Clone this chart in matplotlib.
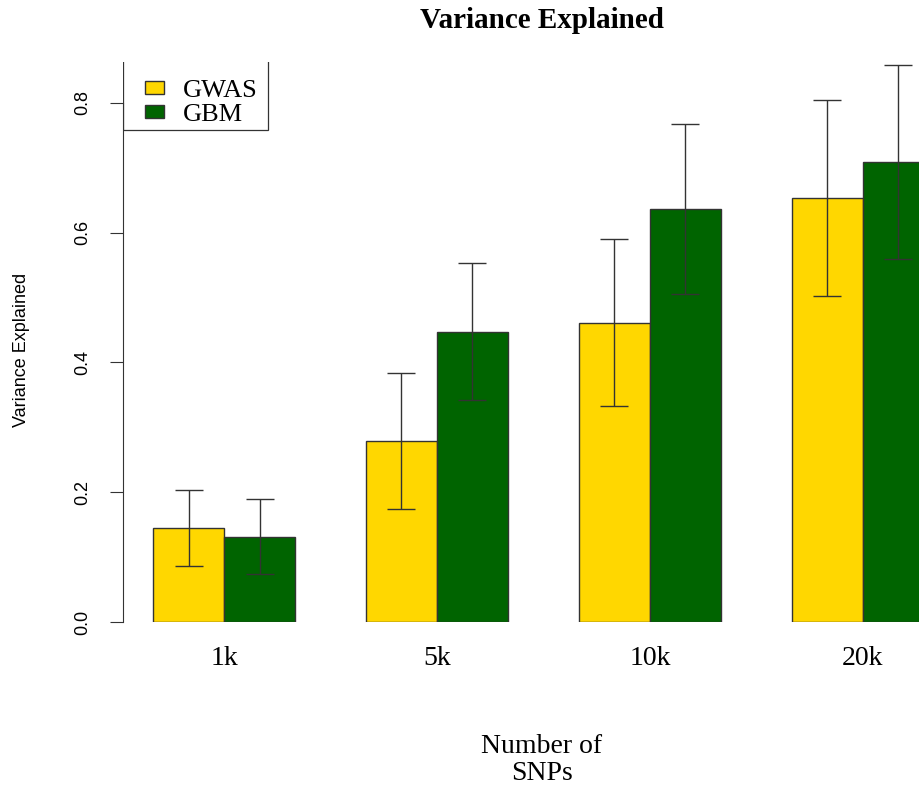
import matplotlib
matplotlib.use("Agg")
import matplotlib.pyplot as plt
from matplotlib.patches import Rectangle
import numpy as np

# Datos
snps = ["1k", "5k", "10k", "20k"]
gwas_mean = [0.145, 0.279, 0.461, 0.654]
gwas_lo = [0.086, 0.174, 0.333, 0.502]
gwas_hi = [0.203, 0.384, 0.590, 0.805]
gbm_mean = [0.131, 0.447, 0.637, 0.709]
gbm_lo = [0.074, 0.342, 0.506, 0.559]
gbm_hi = [0.190, 0.553, 0.768, 0.859]

COLORS = {"GWAS": "#FFD700", "GBM": "#006400"}
SERIF = ["Liberation Serif", "DejaVu Serif"]
SANS = ["Liberation Sans", "DejaVu Sans"]

W, H = 919, 787
fig = plt.figure(figsize=(W / 100, H / 100), dpi=100)
ax = fig.add_axes([123 / W, 1 - 622 / H, 1 - 123 / W, (622 - 62) / H])

# barplot estilo R: ancho 1, espacio 1 entre grupos
left = np.arange(len(snps)) * 3 + 1.0
for off, mean, lo, hi, name in [(0, gwas_mean, gwas_lo, gwas_hi, "GWAS"),
                                (1, gbm_mean, gbm_lo, gbm_hi, "GBM")]:
    mean = np.array(mean)
    x = left + off
    ax.bar(x, mean, 1.0, align="edge", color=COLORS[name], edgecolor="#333333",
           linewidth=1.0, label=name, zorder=2)
    yerr = [mean - np.array(lo), np.array(hi) - mean]
    ax.errorbar(x + 0.5, mean, yerr=yerr, fmt="none", ecolor="#333333",
                elinewidth=1.0, capsize=10, capthick=1.0, zorder=3)

ax.set_xlim(0.577, 11.79)
ax.set_ylim(0, 0.863)

for s in ["top", "right", "bottom"]:
    ax.spines[s].set_visible(False)
ax.spines["left"].set_bounds(0, 0.8)
ax.spines["left"].set_color("#333333")

ax.set_xticks(left + 1.0)
ax.set_xticklabels(snps, fontsize=20, family=SERIF)
ax.tick_params(axis="x", length=0, pad=17)

ax.set_yticks([0.0, 0.2, 0.4, 0.6, 0.8])
ax.set_yticklabels(["0.0", "0.2", "0.4", "0.6", "0.8"], fontsize=13, family=SANS,
                   rotation=90, va="center")
ax.tick_params(axis="y", length=9.5, width=0.8, color="#333333", pad=13)

# leyenda (caja recortada por el area del grafico, como en R)
leg = ax.legend(loc="upper left", bbox_to_anchor=(0.015, 0.987), frameon=False,
                prop={"family": SERIF, "size": 19}, handlelength=0.7,
                handleheight=0.35, handletextpad=0.7, labelspacing=0.08,
                borderaxespad=0)
box = Rectangle((0, 0.879), 0.182, 0.5, transform=ax.transAxes, fill=False,
                edgecolor="#333333", linewidth=0.9, clip_on=True)
ax.add_patch(box)

fig.text(542 / W, 1 - 21 / H, "Variance Explained", ha="center", va="center",
         fontsize=21, fontweight="bold", family=SERIF)
fig.text(542 / W, 1 - 760 / H, "Number of\nSNPs", ha="center", va="center",
         fontsize=20, family=SERIF, linespacing=1.1)
fig.text(22 / W, 1 - 350 / H, "Variance Explained", ha="center", va="center",
         rotation=90, fontsize=13, family=SANS)

fig.savefig("out.png", dpi=100)
